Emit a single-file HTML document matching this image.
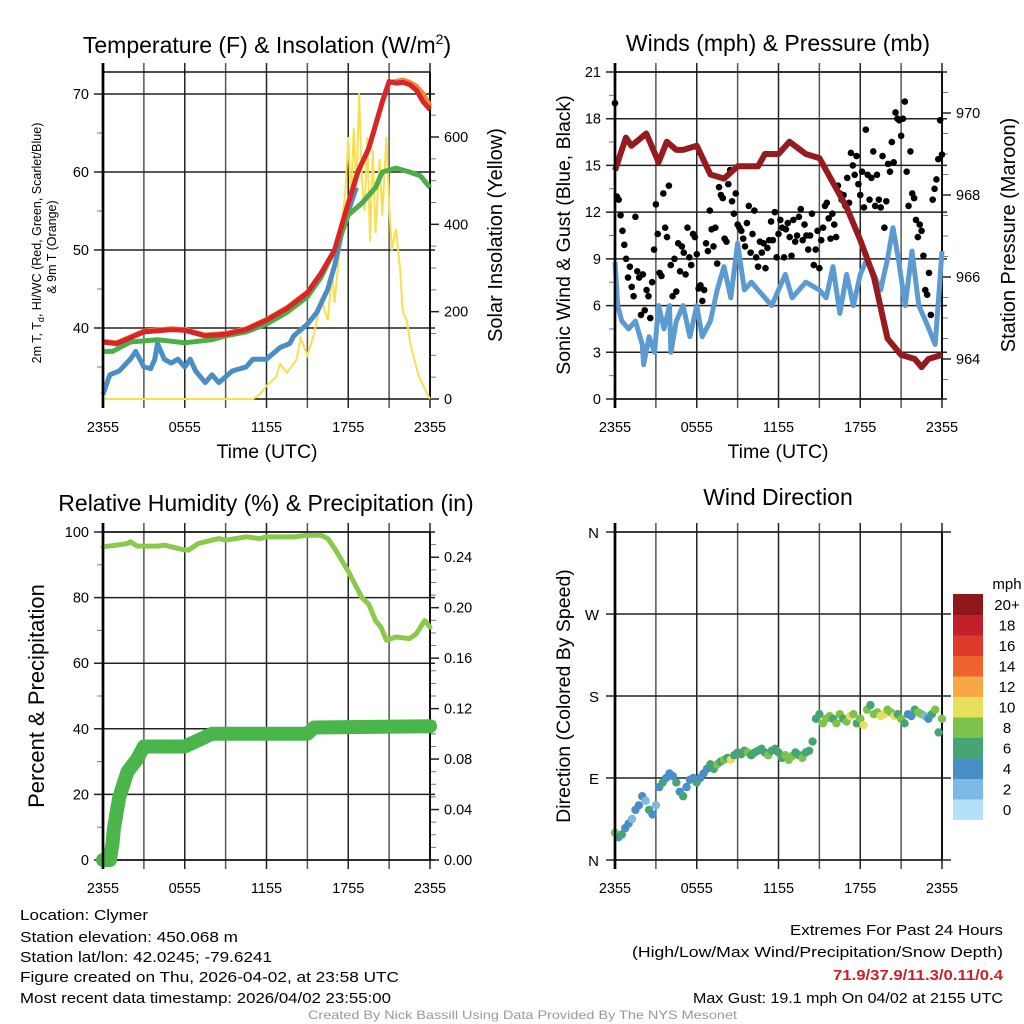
<!DOCTYPE html>
<html><head><meta charset="utf-8"><style>
html,body{margin:0;padding:0;background:#fff}
svg{display:block;font-family:"Liberation Sans",sans-serif}
</style></head><body>
<svg id="svg" width="1024" height="1024" viewBox="0 0 1024 1024" xmlns="http://www.w3.org/2000/svg">
<rect width="1024" height="1024" fill="#fff"/>
<g id="g-temp"></g>
<g id="g-wind"></g>
<g id="g-rh"></g>
<g id="g-dir"></g>
<g font-size="15" fill="#000">
<text x="20" y="920" textLength="128" lengthAdjust="spacingAndGlyphs">Location: Clymer</text>
<text x="20" y="942" textLength="218" lengthAdjust="spacingAndGlyphs">Station elevation: 450.068 m</text>
<text x="20" y="962" textLength="252" lengthAdjust="spacingAndGlyphs">Station lat/lon: 42.0245; -79.6241</text>
<text x="20" y="982" textLength="379" lengthAdjust="spacingAndGlyphs">Figure created on Thu, 2026-04-02, at 23:58 UTC</text>
<text x="20" y="1003" textLength="371" lengthAdjust="spacingAndGlyphs">Most recent data timestamp: 2026/04/02 23:55:00</text>
<text x="1003" y="935" text-anchor="end" textLength="213" lengthAdjust="spacingAndGlyphs">Extremes For Past 24 Hours</text>
<text x="1003" y="957" text-anchor="end" textLength="371" lengthAdjust="spacingAndGlyphs">(High/Low/Max Wind/Precipitation/Snow Depth)</text>
<text x="1003" y="980" text-anchor="end" font-weight="bold" fill="#c8232a" textLength="170" lengthAdjust="spacingAndGlyphs">71.9/37.9/11.3/0.11/0.4</text>
<text x="1003" y="1003" text-anchor="end" textLength="310" lengthAdjust="spacingAndGlyphs">Max Gust: 19.1 mph On 04/02 at 2155 UTC</text>
<text x="308" y="1019" font-size="12" fill="#999" textLength="429" lengthAdjust="spacingAndGlyphs">Created By Nick Bassill Using Data Provided By The NYS Mesonet</text>
</g>
</svg>
<script>
// ===== Data =====
const xTickLabels = ["2355","0555","1155","1755","2355"];
// Temperature panel
const tempTimes  = [0,1,3,5,6,7.5,9,10.5,12,13.5,15,16,17,17.5,18,18.7,19.5,20,20.5,21,21.5,22,22.5,23,23.5,24];
const tempRed    = [38.2,38,39.5,39.8,39.7,39,39.2,39.8,41,42.5,44.5,47,50,53,56,60,63,66,69,71.6,71.4,71.5,71.2,70.5,69,68];
const temp9m     = [38.3,38.1,39.6,39.9,39.8,39.1,39.3,39.9,41.1,42.6,44.6,47,50,53,56,60,63,66,69,71.5,71.6,71.8,71.5,71,70,68.5];
const greenTimes = [0,0.7,2,4,6,8,9,10.5,12,13.5,15,16,17,17.7,18,19,20,20.5,21.5,22.5,23.3,24];
const tempGreen  = [37,37,38.2,38.5,38.1,38.5,39,39.5,40.5,42,44,46.5,50,53,54.5,56,58,60,60.5,60,59.5,58];
const dewTimes   = [0,0.5,1.2,2,2.4,3,3.5,3.8,4,4.5,5,5.5,6,6.4,6.8,7.5,8,8.5,9.5,10.5,11,12,13,13.7,14,15,15.7,16.5,17,17.5,18,18.6];
const dewValues  = [31.5,34,34.5,36,37,35,34.8,36,38,36,35.5,36,35,36,34.5,33,34,33,34.5,35,36,36,37.5,38,39,40.5,42,45,48,52,55,58];
const solarTimes = [0,11,11.5,12,12.7,13,13.5,14.2,14.5,15,15.5,16,16.5,16.8,17,17.3,17.6,17.8,18,18.2,18.4,18.6,18.8,19,19.2,19.4,19.6,19.8,20,20.3,20.5,20.8,21,21.2,21.5,21.8,22,22.3,22.6,23.2,24];
const solarValues= [0,0,10,30,50,80,60,90,140,100,150,230,180,290,220,320,420,480,600,450,620,480,700,500,430,600,360,570,380,550,420,600,450,340,390,300,200,180,120,50,0];
const tempTicks  = [40,50,60,70];
const solarTicks = [0,200,400,600];
// Winds panel
const sustTimes  = [0,0.2,0.5,1,1.5,2,2.1,2.5,2.9,3.2,3.6,4,4.1,4.5,5,5.5,6,6.4,7,7.5,8,8.5,9,9.5,10,11,11.5,12,12.5,13,14,15,15.5,16,16.5,17,17.5,18,18.5,19,19.5,20,20.4,20.8,21.3,21.8,22.3,22.8,23.5,24];
const sustValues = [8.8,6,5,4.5,5,3.5,2.2,4,3,6,4.5,6,3,5,6,4,6,4,5,7,8.5,6.5,10,7,7.5,6.5,6,7,8,6.5,7.5,7,6.5,8.5,5.5,8,6,8,9,8,7,9,11,9,6,9.5,6,5,3.5,9.5];
const gustValues = [19,13,12.8,11.8,10.8,9.9,9,7.8,8.5,7.2,6.6,11.7,8.2,7.8,5.4,8,5.7,7,6.6,5.2,7.5,9.6,12.5,10.6,8.1,7.9,13.2,11,10.4,13.7,8.6,6.6,9,6.9,10,8.2,9.8,9.4,8,11,9.1,8.6,10.6,10.4,9.3,7.1,7.3,6.3,7,10,9.5,12.1,10.9,9.8,11,8.7,13.6,13.1,12.9,10.3,10.1,13.8,14.7,12.7,11.9,13.2,11.2,11,10.8,10.3,9.8,11.3,12.4,9.4,10.6,12.1,9.1,8.5,10.1,9.4,10,8.4,9.7,10.2,11.4,10.2,12,9.1,10.6,11.5,11,9.1,10.9,11.3,10.4,9.2,11.5,10.1,10.5,11.7,12.2,10.2,11.2,10.5,9.6,10.5,11.9,8.6,9.6,10.8,8.4,10.2,11,12.4,12.6,11.6,10.3,11.9,11.2,10.4,13.7,13.2,12.8,13.1,12.4,14.2,12.6,15.8,15,14.4,15.6,13.8,13.1,14.6,12.3,17.3,14.4,12.8,14.2,15.9,12.4,14.4,12.8,12.3,15.6,11,12.7,15.1,14.6,16.5,15.2,18.4,18,17.9,16.9,18,19.1,14.6,12.4,15.9,13.2,12.9,11.5,10.4,11.2,10.8,9.2,7,6.7,8.1,5.4,12.8,13.5,14.1,15.4,17.9,15.7];
const presTimes  = [0,0.8,1.2,2.3,3.2,3.8,4.5,5,6,7,8,9,10.5,11,12,12.8,14,15,16,17,18,19,20,21,22,22.5,23,24];
const presValues = [968.6,969.4,969.2,969.5,968.8,969.3,969.1,969.1,969.2,968.5,968.4,968.7,968.7,969.0,969.0,969.3,969.0,968.9,968.3,967.7,966.9,966.0,964.5,964.1,964.0,963.8,964.0,964.1];
const windTicks  = [0,3,6,9,12,15,18,21];
const presTicks  = [964,966,968,970];
// RH & precip panel
const rhTimes    = [0,1,1.8,2,2.5,4,4.5,5.5,6,6.3,7,8,8.5,9,10.5,11.5,12,14,15,16,16.5,17,18,18.5,19,19.5,20,20.4,20.8,21.5,22.5,23,23.6,24];
const rhValues   = [95.5,96,96.5,97,95.7,95.7,96,95,94.5,94.5,96.5,97.5,98,97.5,98.5,98,98.5,98.5,99,99,98,95,88,84,80,78,73,71,67,68,67.5,69,73,71];
const pcpTimes   = [0,0.5,0.7,0.8,1.2,1.8,2.5,3,6,7,8,15,15.5,24];
const pcpValues  = [0,0,0.013,0.025,0.05,0.07,0.08,0.09,0.09,0.095,0.1,0.1,0.105,0.106];
const rhTicks    = [0,20,40,60,80,100];
const pcpTicks   = [0,0.04,0.08,0.12,0.16,0.20,0.24];
// Direction panel
const dirValues  = [30,25,28,35,40,45,55,60,70,65,55,50,60,80,85,90,95,92,85,75,70,80,88,90,85,90,95,100,105,100,105,108,110,112,110,115,118,116,120,118,115,118,120,122,118,115,120,122,118,112,115,110,114,118,115,112,118,120,130,155,160,150,155,158,155,150,160,155,152,158,160,150,155,148,165,170,160,162,158,160,165,162,158,160,155,150,160,158,165,162,160,158,155,160,165,140,155];
const dirSpeeds  = [8,4,6,4,4,2,4,4,4,2,6,4,2,4,6,4,4,4,6,4,6,4,4,4,6,4,4,4,6,6,8,6,8,6,10,6,6,6,6,8,6,6,6,6,6,8,6,6,6,6,8,8,8,6,6,8,6,6,6,6,6,8,8,8,6,8,8,6,8,10,8,6,8,10,8,6,8,8,10,10,8,8,10,6,8,6,4,4,6,8,8,2,4,6,8,6,8];
const dirLabels  = ["N","E","S","W","N"];
const speedColors= ["#b3e1f7","#7db9e3","#4a8ec6","#46a574","#7dc24b","#e6e05a","#f6a847","#ef632f","#dd3a2b","#c1202a","#8e171b"];
const speedLabels= ["0","2","4","6","8","10","12","14","16","18","20+"];

// ===== Helpers =====
const NS="http://www.w3.org/2000/svg";
function mk(parent,tag,attrs,text){const e=document.createElementNS(NS,tag);for(const k in attrs)e.setAttribute(k,attrs[k]);if(text!==undefined)e.textContent=text;parent.appendChild(e);return e;}
function lin(d0,d1,r0,r1){return v=>r0+(v-d0)/(d1-d0)*(r1-r0);}
function pathD(ts,vs,sx,sy){return ts.map((t,i)=>(i?"L":"M")+sx(t).toFixed(1)+","+sy(vs[i]).toFixed(1)).join("");}

function frame(g,X0,X1,Y0,Y1,leftTicks,ly,rightTicks,ry,leftMinor,rightMinor){
  // vertical grid
  for(let h=0;h<=24;h+=3){const x=lin(0,24,X0,X1)(h);
    const v=mk(g,"line",{x1:x,x2:x,y1:Y0-9,y2:Y1+9,stroke:h%6?"#555":"#222","stroke-width":h===0?2.5:1.5});
    
    }
  leftTicks.forEach(t=>{const y=ly(t);
    const l=mk(g,"line",{x1:X0-9,x2:X1+5,y1:y,y2:y,stroke:"#222","stroke-width":1.5});
    
    
    const tx=mk(g,"text",{x:X0-14,y:y+5,"text-anchor":"end","font-size":14.5},String(t));
    
    });
  leftMinor.forEach(t=>{const y=ly(t);mk(g,"line",{x1:X0-6,x2:X0,y1:y,y2:y,stroke:"#777","stroke-width":1});});
  if(rightTicks){rightTicks.forEach(t=>{const y=ry(t);
    mk(g,"line",{x1:X1,x2:X1+9,y1:y,y2:y,stroke:"#222","stroke-width":1.5});
    const tx=mk(g,"text",{x:X1+14,y:y+5,"font-size":14.5},typeof t==="number"&&t<1&&t!==0||String(t).includes(".")?t.toFixed(2):(t===0&&ry.dec?"0.00":String(t)));
    
    });
    rightMinor.forEach(t=>{const y=ry(t);mk(g,"line",{x1:X1,x2:X1+6,y1:y,y2:y,stroke:"#777","stroke-width":1});});}
  mk(g,"line",{x1:X0,x2:X1,y1:Y0,y2:Y0,stroke:"#111","stroke-width":1.5});
  mk(g,"line",{x1:X0,x2:X1,y1:Y1,y2:Y1,stroke:"#111","stroke-width":1.5});
  mk(g,"line",{x1:X1,x2:X1,y1:Y0,y2:Y1,stroke:"#111","stroke-width":2});
  xTickLabels.forEach((s,i)=>{const x=lin(0,24,X0,X1)(i*6);
    const tx=mk(g,"text",{x:x,y:Y1+33,"text-anchor":"middle","font-size":14.5},s);
    
    });
}
function vlabel(g,x,y,size,txt,name){const t=mk(g,"text",{x:0,y:0,transform:`translate(${x},${y}) rotate(-90)`,"text-anchor":"middle","font-size":size},txt);
  
  return t;}
function title(g,x,y,txt,name){const t=mk(g,"text",{x:x,y:y,"text-anchor":"middle","font-size":23},txt);
  
  return t;}

// ===== Panel 1: Temperature =====
(function(){
 const g=document.getElementById("g-temp");const X0=103,X1=430,Y0=72,Y1=399;
 const sx=lin(0,24,X0,X1), sy=lin(40,70,328,94), ss=lin(0,600,399,137);
 frame(g,X0,X1,Y0,Y1,tempTicks,sy,solarTicks,ss,[35,45,55,65],[50,100,150,250,300,350,450,500,550,650]);
 const t=mk(g,"text",{x:267,y:53,"text-anchor":"middle","font-size":23});
 
 
 t.appendChild(document.createTextNode("Temperature (F) & Insolation (W/m"));
 mk(t,"tspan",{dy:-9,"font-size":14},"2");mk(t,"tspan",{dy:9},")");
 const s=mk(g,"path",{d:pathD(solarTimes,solarValues,sx,ss),fill:"none",stroke:"#f7e04b","stroke-width":2});
 
 
 const dw=mk(g,"path",{d:pathD(dewTimes,dewValues,sx,sy),fill:"none",stroke:"#4a8ec6","stroke-width":5,"stroke-linejoin":"round"});
 
 
 const gr=mk(g,"path",{d:pathD(greenTimes,tempGreen,sx,sy),fill:"none",stroke:"#4cae48","stroke-width":5,"stroke-linejoin":"round"});
 
 
 const o=mk(g,"path",{d:pathD(tempTimes,temp9m,sx,sy),fill:"none",stroke:"#f08a30","stroke-width":5,"stroke-linejoin":"round"});
 
 
 const r=mk(g,"path",{d:pathD(tempTimes,tempRed,sx,sy),fill:"none",stroke:"#d9252a","stroke-width":5,"stroke-linejoin":"round"});
 
 
 mk(g,"line",{x1:X0,x2:X0,y1:Y0-9,y2:Y1+9,stroke:"#000","stroke-width":2.5});
 const a=vlabel(g,41,243,12.5,"","y-axis-title");
 a.appendChild(document.createTextNode("2m T, T"));mk(a,"tspan",{"font-size":9,dy:3},"d");mk(a,"tspan",{dy:-3},", HI/WC (Red, Green, Scarlet/Blue)");
 vlabel(g,56,247,12.5,"& 9m T (Orange)","y-axis-title-line2");
 vlabel(g,502,235,20,"Solar Insolation (Yellow)","right-axis-title");
 const xt=mk(g,"text",{x:267,y:458,"text-anchor":"middle","font-size":19.5},"Time (UTC)");
 
 
})();

// ===== Panel 2: Winds =====
(function(){
 const g=document.getElementById("g-wind");const X0=615,X1=942,Y0=72,Y1=399;
 const sx=lin(0,24,X0,X1), sy=lin(0,21,399,72), sp=lin(964,970,359,113);
 frame(g,X0,X1,Y0,Y1,windTicks,sy,presTicks,sp,[1.5,4.5,7.5,10.5,13.5,16.5,19.5],[963.5,964.5,965,965.5,966.5,967,967.5,968.5,969,969.5,970.5]);
 title(g,778,51,"Winds (mph) & Pressure (mb)","chart-title");
 const b=mk(g,"path",{d:pathD(sustTimes,sustValues,sx,sy),fill:"none",stroke:"#5b9bd2","stroke-width":5,"stroke-linejoin":"round"});
 
 
 gustValues.forEach((v,i)=>{const t=i*24/(gustValues.length-1);
  const c=mk(g,"circle",{cx:sx(t),cy:sy(v),r:3.3,fill:"#000"});
  
  });
 const p=mk(g,"path",{d:pathD(presTimes,presValues,sx,sp),fill:"none",stroke:"#961b1e","stroke-width":6,"stroke-linejoin":"round"});
 
 
 mk(g,"line",{x1:X0,x2:X0,y1:Y0-9,y2:Y1+9,stroke:"#000","stroke-width":2.5});
 vlabel(g,570,235,19.5,"Sonic Wind & Gust (Blue, Black)","y-axis-title");
 vlabel(g,1015,235,20,"Station Pressure (Maroon)","right-axis-title");
 const xt=mk(g,"text",{x:778,y:458,"text-anchor":"middle","font-size":19.5},"Time (UTC)");
 
 
})();

// ===== Panel 3: RH & Precip =====
(function(){
 const g=document.getElementById("g-rh");const X0=103,X1=430,Y0=532,Y1=860;
 const sx=lin(0,24,X0,X1), sy=lin(0,100,860,532), sp=lin(0,0.26,860,532); sp.dec=true;
 frame(g,X0,X1,Y0,Y1,rhTicks,sy,pcpTicks,sp,[10,30,50,70,90],[0.01,0.02,0.03,0.05,0.06,0.07,0.09,0.10,0.11,0.13,0.14,0.15,0.17,0.18,0.19,0.21,0.22,0.23,0.25]);
 title(g,266,511,"Relative Humidity (%) & Precipitation (in)","chart-title");
 const r=mk(g,"path",{d:pathD(rhTimes,rhValues,sx,sy),fill:"none",stroke:"#8cc84b","stroke-width":5,"stroke-linejoin":"round","stroke-linecap":"round"});
 
 
 const p=mk(g,"path",{d:pathD(pcpTimes,pcpValues,sx,sp),fill:"none",stroke:"#4ab54a","stroke-width":14,"stroke-linejoin":"round","stroke-linecap":"round"});
 
 
 mk(g,"line",{x1:X0,x2:X0,y1:Y0-9,y2:Y1+9,stroke:"#000","stroke-width":2.5});
 vlabel(g,44,696,22,"Percent & Precipitation","y-axis-title");
})();

// ===== Panel 4: Direction =====
(function(){
 const g=document.getElementById("g-dir");const X0=615,X1=942,Y0=532,Y1=860;
 const sx=lin(0,24,X0,X1), sy=lin(0,360,860,532);
 const fake=lin(0,4,860,532);
 frame(g,X0,X1,Y0,Y1,[],fake,null,null,[],[]);
 dirLabels.forEach((s,i)=>{const y=fake(i);
  const l=mk(g,"line",{x1:X0-9,x2:X1+9,y1:y,y2:y,stroke:"#222","stroke-width":1.5});
  
  
  const tx=mk(g,"text",{x:X0-16,y:y+6,"text-anchor":"end","font-size":15},s);
  
  });
 title(g,778,505,"Wind Direction","chart-title");
 dirValues.forEach((v,i)=>{const t=i*24/(dirValues.length-1);
  const col=speedColors[Math.min(10,Math.floor(dirSpeeds[i]/2))];
  const c=mk(g,"circle",{cx:sx(t),cy:sy(v),r:4.2,fill:col});
  
  });
 mk(g,"line",{x1:X0,x2:X0,y1:Y0-9,y2:Y1+9,stroke:"#000","stroke-width":2.5});
 vlabel(g,570,696,19.5,"Direction (Colored By Speed)","y-axis-title");
 const lg=mk(g,"g",{});
 
 
 const bh=20.5, top=594;
 speedColors.forEach((c,i)=>{const y=top+(10-i)*bh;
  const rc=mk(lg,"rect",{x:953,y:y,width:30,height:bh+0.5,fill:c});
  
  
  const tx=mk(lg,"text",{x:1007,y:y+16,"text-anchor":"middle","font-size":15},speedLabels[i]);
  
  });
 const u=mk(lg,"text",{x:1007,y:589,"text-anchor":"middle","font-size":15},"mph");
 
 
})();
</script>
</body></html>
